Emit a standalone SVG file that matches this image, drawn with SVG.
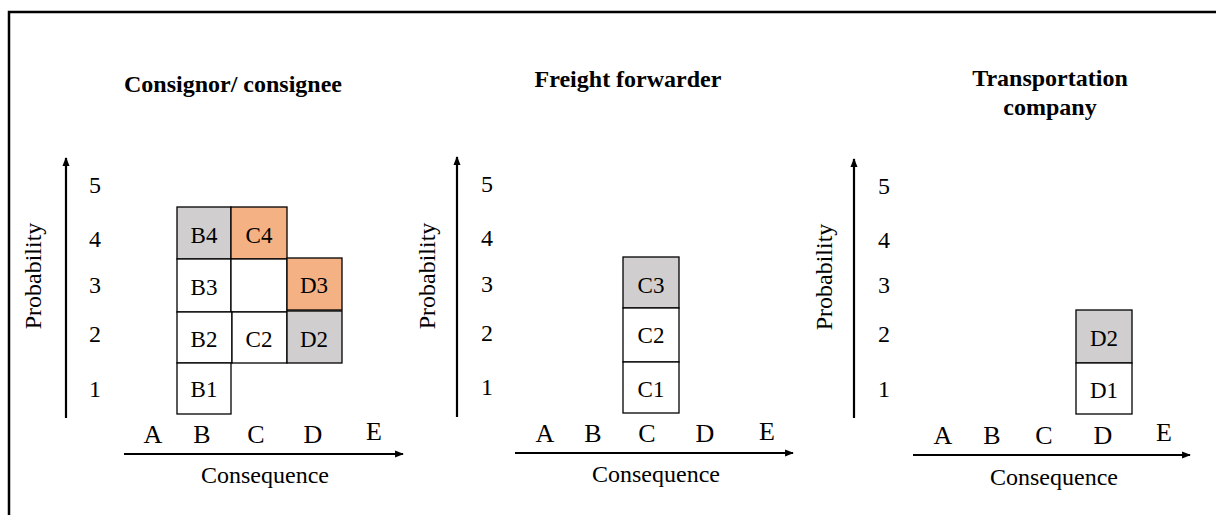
<svg xmlns="http://www.w3.org/2000/svg" width="1216" height="515" viewBox="0 0 1216 515" font-family="'Liberation Serif','Times New Roman','DejaVu Serif',serif">
<defs>
<marker id="arr" viewBox="0 0 10 10" refX="9" refY="5" markerWidth="4.5" markerHeight="4" markerUnits="strokeWidth" orient="auto">
<path d="M0,1 L10,5 L0,9 z" fill="#000"/>
</marker>
<style>
text{font-family:"Liberation Serif","Times New Roman","DejaVu Serif",serif;fill:#000;}
.t{font-size:24px;font-weight:bold;text-anchor:middle;}
.n{font-size:24px;text-anchor:middle;}
.l{font-size:26px;text-anchor:middle;}
.c{font-size:23px;text-anchor:middle;}
.ax{font-size:24px;text-anchor:middle;}
.cell{stroke:#000;stroke-width:1.3;fill:#fff;}
.g{fill:#d0cece;}
.o{fill:#f4b183;}
.axis{stroke:#000;stroke-width:2.2;fill:none;marker-end:url(#arr);}
</style>
</defs>
<rect width="1216" height="515" fill="#fff"/>
<path d="M9 520 V12 H1220" fill="none" stroke="#000" stroke-width="2.5"/>

<g id="connectors">
<line class="axis" x1="66" y1="418" x2="66" y2="158"/>
<line class="axis" x1="124" y1="454" x2="403" y2="454"/>
<line class="axis" x1="457" y1="417" x2="457" y2="157"/>
<line class="axis" x1="515" y1="453" x2="793" y2="453"/>
<line class="axis" x1="854" y1="418" x2="854" y2="159"/>
<line class="axis" x1="913" y1="455" x2="1190" y2="455"/>
</g>

<g id="panel1">
<text class="t" x="233" y="92">Consignor/ consignee</text>
<text class="ax" transform="translate(41,276) rotate(-90)">Probability</text>
<text class="n" x="95" y="193">5</text>
<text class="n" x="95" y="247">4</text>
<text class="n" x="95" y="293">3</text>
<text class="n" x="95" y="342">2</text>
<text class="n" x="95" y="397">1</text>
<text class="l" x="153" y="443">A</text>
<text class="l" x="202" y="443">B</text>
<text class="l" x="256" y="443">C</text>
<text class="l" x="313" y="443">D</text>
<text class="l" x="374" y="440">E</text>
<text class="ax" x="265" y="483">Consequence</text>
</g>
<g id="p1-B4"><rect class="cell g" x="177" y="207" width="54" height="52"/><text class="c" x="204" y="243">B4</text></g>
<g id="p1-C4"><rect class="cell o" x="231" y="207" width="56" height="52"/><text class="c" x="259" y="243">C4</text></g>
<g id="p1-B3"><rect class="cell" x="177" y="259" width="54" height="53"/><text class="c" x="204" y="295">B3</text></g>
<g id="p1-C3"><rect class="cell" x="231" y="259" width="56" height="53"/></g>
<g id="p1-D3"><rect class="cell o" x="287" y="258" width="55" height="52"/><text class="c" x="314" y="293">D3</text></g>
<g id="p1-B2"><rect class="cell" x="177" y="312" width="55" height="51"/><text class="c" x="204" y="347">B2</text></g>
<g id="p1-C2"><rect class="cell" x="232" y="312" width="55" height="51"/><text class="c" x="259" y="347">C2</text></g>
<g id="p1-D2"><rect class="cell g" x="287" y="311" width="55" height="52"/><text class="c" x="314" y="347">D2</text></g>
<g id="p1-B1"><rect class="cell" x="177" y="363" width="54" height="51"/><text class="c" x="204" y="397">B1</text></g>

<g id="panel2">
<text class="t" x="628" y="87">Freight forwarder</text>
<text class="ax" transform="translate(435,276) rotate(-90)">Probability</text>
<text class="n" x="487" y="192">5</text>
<text class="n" x="487" y="246">4</text>
<text class="n" x="487" y="292">3</text>
<text class="n" x="487" y="341">2</text>
<text class="n" x="487" y="395">1</text>
<text class="l" x="545" y="442">A</text>
<text class="l" x="593" y="442">B</text>
<text class="l" x="647" y="442">C</text>
<text class="l" x="705" y="442">D</text>
<text class="l" x="767" y="440">E</text>
<text class="ax" x="656" y="482">Consequence</text>
</g>
<g id="p2-C3"><rect class="cell g" x="623" y="257" width="56" height="51"/><text class="c" x="651" y="293">C3</text></g>
<g id="p2-C2"><rect class="cell" x="623" y="308" width="56" height="54"/><text class="c" x="651" y="343">C2</text></g>
<g id="p2-C1"><rect class="cell" x="623" y="362" width="56" height="51"/><text class="c" x="651" y="397">C1</text></g>

<g id="panel3">
<text class="t" x="1050" y="86">Transportation</text>
<text class="t" x="1050" y="115">company</text>
<text class="ax" transform="translate(832,277) rotate(-90)">Probability</text>
<text class="n" x="884" y="194">5</text>
<text class="n" x="884" y="248">4</text>
<text class="n" x="884" y="293">3</text>
<text class="n" x="884" y="342">2</text>
<text class="n" x="884" y="397">1</text>
<text class="l" x="943" y="444">A</text>
<text class="l" x="992" y="444">B</text>
<text class="l" x="1044" y="444">C</text>
<text class="l" x="1103" y="444">D</text>
<text class="l" x="1164" y="441">E</text>
<text class="ax" x="1054" y="485">Consequence</text>
</g>
<g id="p3-D2"><rect class="cell g" x="1076" y="310" width="56" height="53"/><text class="c" x="1104" y="346">D2</text></g>
<g id="p3-D1"><rect class="cell" x="1076" y="363" width="56" height="51"/><text class="c" x="1104" y="398">D1</text></g>
</svg>
